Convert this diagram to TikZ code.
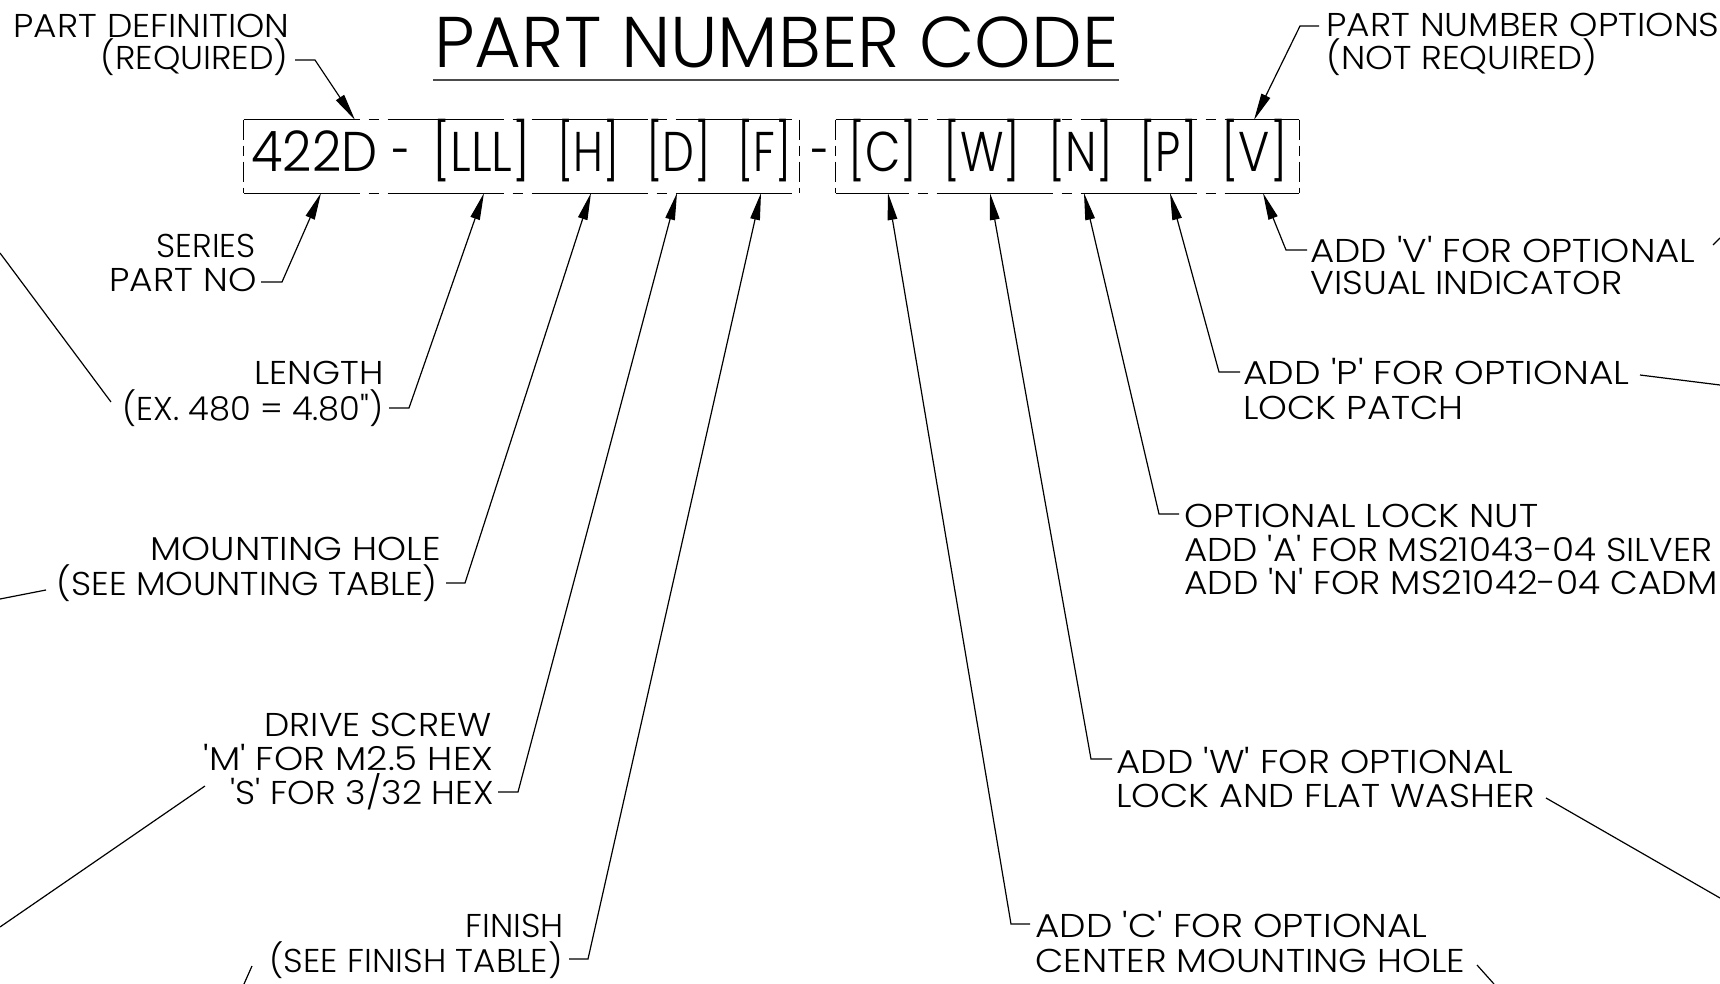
\documentclass[tikz,border=0pt]{standalone}
\usepackage{fontspec}
\usepackage{graphicx}
\setmainfont{Poppins Light}
\usetikzlibrary{arrows.meta,calc}
\newcommand\q{\textquotesingle}
\newcommand\fw[2]{\resizebox{#1}{\height}{#2}}
\begin{document}
\begin{tikzpicture}[x=0.5pt,y=-0.5pt,
  lab/.style={inner sep=0pt, font=\fontsize{16.5pt}{20pt}\selectfont},
  labr/.style={lab, anchor=base east},
  labl/.style={lab, anchor=base west},
  tok/.style={inner sep=0pt, anchor=base west, font=\fontsize{28pt}{30pt}\selectfont},
  leader/.style={line width=0.6pt},
  arr/.style={leader, -{Triangle[length=13.5pt,width=4.8pt]}},
  hedge/.style={line width=0.8pt, dash pattern=on 58pt off 4.5pt on 5pt off 4.5pt},
  vedge/.style={line width=0.8pt, dash pattern=on 10pt off 3pt on 5pt off 3pt},
  stray/.style={line width=0.6pt}]
\useasboundingbox (0,0) rectangle (1720,984);
\clip (0,0) rectangle (1720,984);
\fill[white] (0,0) rectangle (1720,984);

% title
\node[anchor=base west, inner sep=0pt, font=\fontsize{35.9pt}{40pt}\selectfont] (title) at (434,68) {\fw{342pt}{PART NUMBER CODE}};
\draw[line width=1pt, black!70] ($(title.base west)+(-1,12)$) -- ($(title.base west)+(685,12)$);

% boxes
\node[inner sep=0pt, minimum width=277.5pt, minimum height=36.5pt] (box1) at (521.5,156.5) {};
\node[inner sep=0pt, minimum width=231.5pt, minimum height=36.5pt] (box2) at (1067.5,156.5) {};
\draw[hedge] (box1.north west) -- (box1.north east);
\draw[hedge] (box1.south west) -- (box1.south east);
\draw[vedge] (box1.north west) -- (box1.south west);
\draw[vedge] (box1.north east) -- (box1.south east);
\draw[hedge, dash phase=21.5pt] (box2.north west) -- (box2.north east);
\draw[hedge, dash phase=21.5pt] (box2.south west) -- (box2.south east);
\draw[vedge] (box2.north west) -- (box2.south west);
\draw[vedge] (box2.north east) -- (box2.south east);

% tokens
\node[tok] (t422) at (251,172) {\fw{63pt}{422D}};
\node[tok] (tdash) at (392,172) {\fw{9pt}{-}};
\node[tok] (tL) at (432,172) {\fw{49pt}{[LLL]}};
\node[tok] (tH) at (557,172) {\fw{31pt}{[H]}};
\node[tok] (tD) at (646,172) {\fw{32.5pt}{[D]}};
\node[tok] (tF) at (737,172) {\fw{27pt}{[F]}};
\node[tok] (tsep) at (811,172) {\fw{9pt}{-}};
\node[tok] (tC) at (848,172) {\fw{34.5pt}{[C]}};
\node[tok] (tW) at (943,172) {\fw{38.5pt}{[W]}};
\node[tok] (tN) at (1048,172) {\fw{32.5pt}{[N]}};
\node[tok] (tP) at (1139,172) {\fw{29pt}{[P]}};
\node[tok] (tV) at (1221,172) {\fw{33pt}{[V]}};

% arrow tips
\coordinate (tipDef) at (355,120);
\coordinate (tipOpt) at (1254,120);
\coordinate (tipS) at (321,193);
\coordinate (tipL) at (484,193);
\coordinate (tipH) at (591,193);
\coordinate (tipD) at (677,193);
\coordinate (tipF) at (761,193);
\coordinate (tipC) at (888,193);
\coordinate (tipW) at (990,193);
\coordinate (tipN) at (1084,193);
\coordinate (tipP) at (1170,193);
\coordinate (tipV) at (1263,193);

% left labels
\node[labr] (def1) at (290,38) {\fw{138pt}{PART DEFINITION}};
\node[labr] (def2) at (289,70) {\fw{94pt}{(REQUIRED)}};
\node[labr] (ser1) at (256,258) {\fw{49.5pt}{SERIES}};
\node[labr] (ser2) at (257,292) {\fw{73.5pt}{PART NO}};
\node[labr] (len1) at (384,385) {\fw{64.5pt}{LENGTH}};
\node[labr] (len2) at (384,420) {\fw{130.5pt}{(EX. 480 = 4.80\textquotedbl)}};
\node[labr] (mh1) at (441,560) {\fw{145pt}{MOUNTING HOLE}};
\node[labr] (mh2) at (438,595) {\fw{190.5pt}{(SEE MOUNTING TABLE)}};
\node[labr] (ds1) at (492,736) {\fw{113.5pt}{DRIVE SCREW}};
\node[labr] (ds2) at (494,770) {\fw{145pt}{\q M\q{} FOR M2.5 HEX}};
\node[labr] (ds3) at (494,804) {\fw{131.5pt}{\q S\q{} FOR 3/32 HEX}};
\node[labr] (fi1) at (564,937) {\fw{49pt}{FINISH}};
\node[labr] (fi2) at (563,972) {\fw{146.5pt}{(SEE FINISH TABLE)}};

% right labels
\node[labl] (opt1) at (1326,37) {\fw{196.5pt}{PART NUMBER OPTIONS}};
\node[labl] (opt2) at (1326,70) {\fw{135.5pt}{(NOT REQUIRED)}};
\node[labl] (v1) at (1310,263) {\fw{192.5pt}{ADD \q V\q{} FOR OPTIONAL}};
\node[labl] (v2) at (1310,295) {\fw{156pt}{VISUAL INDICATOR}};
\node[labl] (p1) at (1243,385) {\fw{193pt}{ADD \q P\q{} FOR OPTIONAL}};
\node[labl] (p2) at (1243,420) {\fw{110pt}{LOCK PATCH}};
\node[labl] (n1) at (1184,527) {\fw{177pt}{OPTIONAL LOCK NUT}};
\node[labl] (n2) at (1184,561) {\fw{264pt}{ADD \q A\q{} FOR MS21043-04 SILVER}};
\node[labl] (n3) at (1184,595) {\fw{266.5pt}{ADD \q N\q{} FOR MS21042-04 CADM}};
\node[labl] (w1) at (1116,773) {\fw{198.5pt}{ADD \q W\q{} FOR OPTIONAL}};
\node[labl] (w2) at (1116,807) {\fw{209.5pt}{LOCK AND FLAT WASHER}};
\node[labl] (c1) at (1035,937) {\fw{196pt}{ADD \q C\q{} FOR OPTIONAL}};
\node[labl] (c2) at (1035,972) {\fw{215pt}{CENTER MOUNTING HOLE}};

% leaders, left
\draw[arr] (def2.base east) ++(6,-10) -- ++(20,0) -- (tipDef);
\draw[arr] (ser2.base east) ++(4,-10) -- ++(21,0) -- (tipS);
\draw[arr] (len2.base east) ++(5,-12) -- ++(20,0) -- (tipL);
\draw[arr] (mh2.base east) ++(8,-12) -- ++(19,0) -- (tipH);
\draw[arr] (ds3.base east) ++(4,-12) -- ++(20,0) -- (tipD);
\draw[arr] (fi2.base east) ++(6,-13) -- ++(19,0) -- (tipF);
% leaders, right
\draw[arr] (opt1.base west) ++(-7,-11) -- ++(-19,0) -- (tipOpt);
\draw[arr] (v1.base west) ++(-3,-13) -- ++(-21,0) -- (tipV);
\draw[arr] (p1.base west) ++(-3,-13) -- ++(-21,0) -- (tipP);
\draw[arr] (n1.base west) ++(-5,-13) -- ++(-20,0) -- (tipN);
\draw[arr] (w1.base west) ++(-4,-14) -- ++(-21,0) -- (tipW);
\draw[arr] (c1.base west) ++(-5,-13) -- ++(-19,0) -- (tipC);

% leaders running out of the picture
\draw[stray] (0,253) -- (111,402);
\draw[stray] (0,599) -- (46,590);
\draw[stray] (205,786) -- (0,927);
\draw[stray] (252,966) -- (244,984);
\draw[stray] (1713,245) -- (1720,238);
\draw[stray] (1640,375) -- (1720,385);
\draw[stray] (1546,798) -- (1720,898);
\draw[stray] (1477,965) -- (1494,984);
\end{tikzpicture}
\end{document}
